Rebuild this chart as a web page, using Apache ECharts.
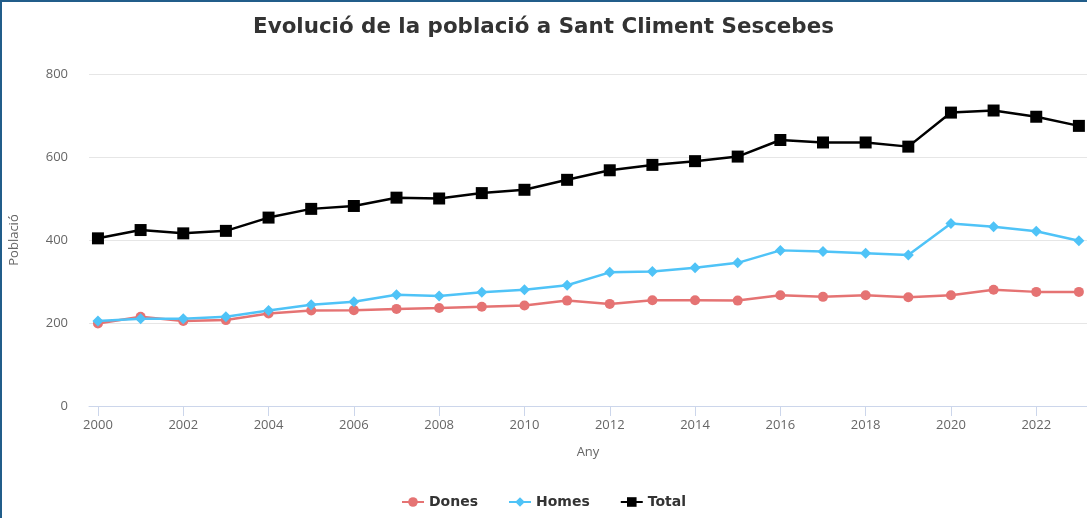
<!DOCTYPE html>
<html>
<head>
<meta charset="utf-8">
<script src="https://cdn.jsdelivr.net/npm/echarts@6/dist/echarts.min.js"></script>
<style>
html,body{margin:0;padding:0;background:#fff;}
#wrap{position:absolute;left:0;top:0;width:1087px;height:518px;box-sizing:border-box;border-left:2px solid #215d8a;border-top:2px solid #215d8a;}
#chart{position:absolute;left:0;top:0;width:1087px;height:518px;}
</style>
</head>
<body>
<div id="chart"></div>
<div id="wrap"></div>
<script>
const titleText = 'Evolució de la població a Sant Climent Sescebes';
const years = [2000,2001,2002,2003,2004,2005,2006,2007,2008,2009,2010,2011,2012,2013,2014,2015,2016,2017,2018,2019,2020,2021,2022,2023];
const dones = [199,215,205,207,223,230,231,234,236,239,242,254,246,255,255,254,267,263,267,262,267,280,275,275];
const homes = [205,210,210,215,230,244,251,268,265,274,280,291,322,324,333,345,375,372,368,364,440,432,421,398];
const total = [404,424,416,422,454,475,482,502,500,513,521,545,568,581,590,601,641,635,635,625,707,712,697,675];
const xTicks = [2000,2002,2004,2006,2008,2010,2012,2014,2016,2018,2020,2022];
const yTicks = [0,200,400,600,800];

const pair = (arr) => years.map((y,i)=>[y,arr[i]]);
const chart = echarts.init(document.getElementById('chart'));
chart.setOption({
  animation:false,
  title:{text:titleText,left:'center',top:12,textStyle:{fontFamily:'DejaVu Sans',fontSize:21.4,fontWeight:'bold',color:'#333'}},
  grid:{left:87,right:0,top:74,bottom:112},
  xAxis:{type:'value',min:1999.79,max:2023.19,
    name:'Any',nameLocation:'middle',nameGap:40,
    nameTextStyle:{color:'#666',fontSize:13,fontFamily:'Open Sans'},
    axisLine:{show:true,lineStyle:{color:'#ccd6eb'}},
    axisTick:{show:true,customValues:xTicks,length:10,lineStyle:{color:'#ccd6eb'}},
    axisLabel:{customValues:xTicks,formatter:(v)=>String(Math.round(v)),color:'#666',fontSize:13,fontFamily:'Open Sans',margin:13},
    splitLine:{show:false}},
  yAxis:{type:'value',min:0,max:800,interval:200,
    name:'Població',nameLocation:'middle',nameGap:68,nameRotate:90,
    nameTextStyle:{color:'#666',fontSize:13,fontFamily:'Open Sans'},
    axisLine:{show:false},axisTick:{show:false},
    axisLabel:{formatter:(v)=>String(v),color:'#666',fontSize:13,fontFamily:'Open Sans',margin:21},
    splitLine:{lineStyle:{color:'#e6e6e6'}}},
  legend:{bottom:4,left:'center',itemGap:30,itemWidth:22,itemHeight:12,
    textStyle:{color:'#333',fontWeight:'bold',fontSize:14,fontFamily:'DejaVu Sans'},
    data:['Dones','Homes','Total']},
  series:[
    {name:'Dones',type:'line',data:pair(dones),color:'#e57373',symbol:'circle',symbolSize:10,lineStyle:{width:2.5}},
    {name:'Homes',type:'line',data:pair(homes),color:'#4fc3f7',symbol:'diamond',symbolSize:11,lineStyle:{width:2.5}},
    {name:'Total',type:'line',data:pair(total),color:'#000000',symbol:'rect',symbolSize:12,lineStyle:{width:2.5}}
  ]
});
</script>
</body>
</html>
